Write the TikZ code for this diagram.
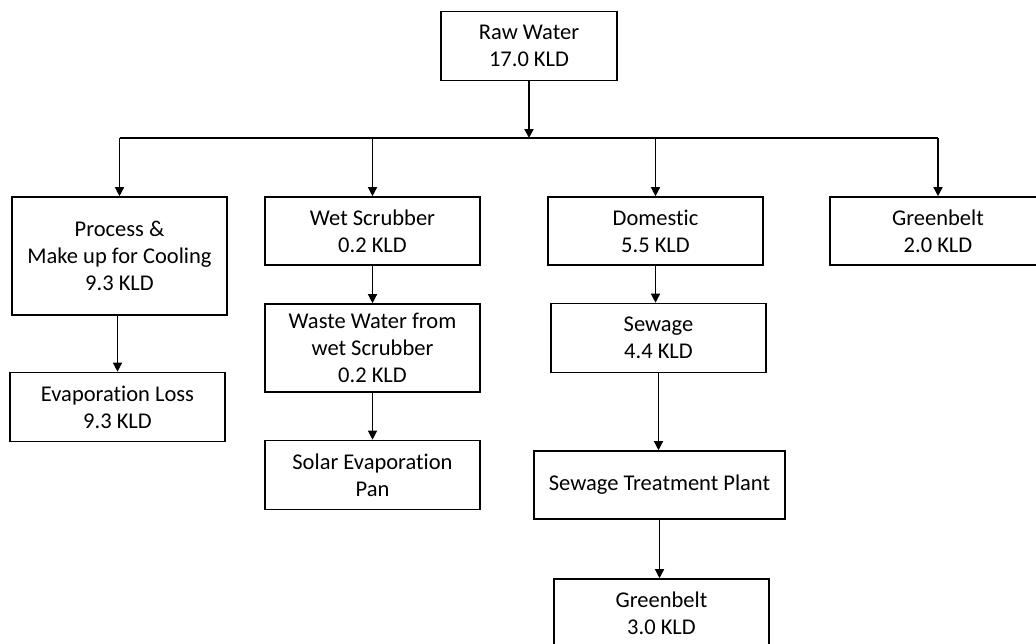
\documentclass[tikz,border=0pt]{standalone}
\usepackage{fontspec}
\setmainfont[Ligatures={NoCommon,NoRare,NoContextual}]{Carlito}
\usetikzlibrary{arrows.meta}

\tikzset{
  box/.style={draw, line width=1.6pt, minimum width=215pt, minimum height=68pt,
    inner sep=0pt, align=center, font=\fontsize{22.5}{27.3}\selectfont},
  flow/.style={-{Triangle[length=9pt,width=9pt]}, line width=1.3pt}
}

\begin{document}
\begin{tikzpicture}[x=1pt, y=-1pt]
  \useasboundingbox (0,0) rectangle (1036,643);

  \node[box, minimum width=176pt, minimum height=69pt] (raw) at (529,46) {Raw Water\\17.0 KLD};
  \coordinate (bus) at (529,138);

  \node[box, minimum height=118pt] (proc) at (119.5,256) {Process \&\\Make up for Cooling\\9.3 KLD};
  \node[box] (wet) at (372.5,231) {Wet Scrubber\\0.2 KLD};
  \node[box] (dom) at (655.5,231) {Domestic\\5.5 KLD};
  \node[box, minimum width=216pt] (green) at (938,231) {Greenbelt\\2.0 KLD};

  \node[box, minimum height=69pt] (evap) at (117.5,407) {Evaporation Loss\\9.3 KLD};
  \node[box, minimum height=88pt] (waste) at (372.5,348) {Waste Water from\\wet Scrubber\\0.2 KLD};
  \node[box, minimum height=69pt] (solar) at (372.5,475) {Solar Evaporation\\Pan};
  \node[box, minimum height=69pt] (sew) at (658.5,338) {Sewage\\4.4 KLD};
  \node[box, minimum width=251pt] (stp) at (659.5,485) {Sewage Treatment Plant};
  \node[box] (green2) at (661.5,613) {Greenbelt\\3.0 KLD};

  % raw water to the header line
  \draw[flow, line width=2pt] (raw) -- (bus);
  \draw[line width=1.3pt] (proc.north |- bus) -- (green.north |- bus);
  \foreach \n in {proc, wet, dom, green}
    \draw[flow] (\n.north |- bus) -- (\n.north);

  % second level
  \draw[flow] (evap.north |- proc.south) -- (evap.north);
  \draw[flow] (wet) -- (waste);
  \draw[flow] (waste) -- (solar);
  \draw[flow] (dom.south) -- (dom.south |- sew.north);
  \draw[flow] (sew.south) -- (sew.south |- stp.north);
  \draw[flow] (stp.south) -- (stp.south |- green2.north);
\end{tikzpicture}
\end{document}
